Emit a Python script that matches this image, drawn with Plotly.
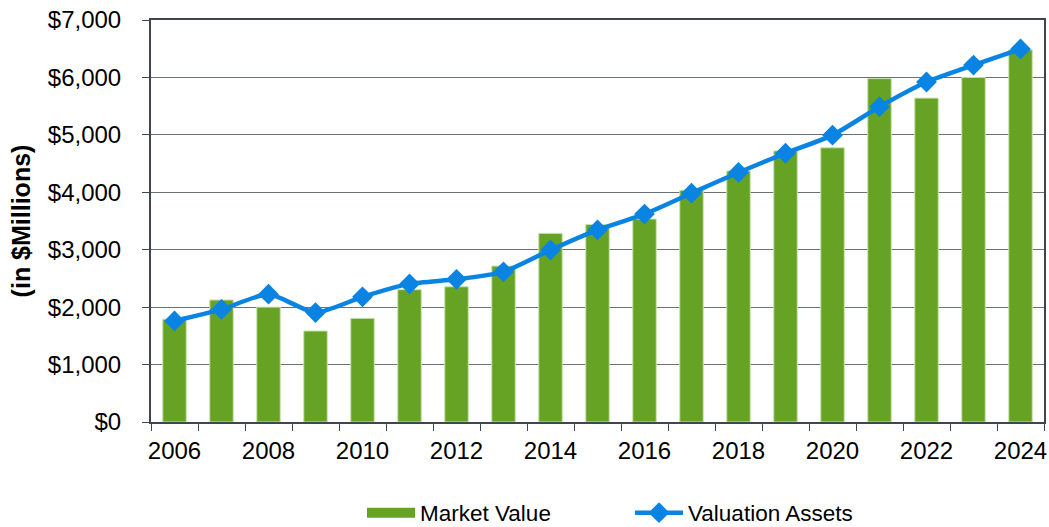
import plotly.graph_objects as go

years = list(range(2006, 2025))
market_value = [1790, 2125, 2000, 1585, 1805, 2305, 2355, 2715, 3285, 3440,
                3535, 4035, 4370, 4720, 4775, 5980, 5640, 6000, 6480]
valuation_assets = [1760, 1960, 2225, 1905, 2180, 2405, 2485, 2615, 2995, 3345,
                    3620, 3985, 4345, 4680, 4995, 5490, 5920, 6215, 6495]
y_ticks = [0, 1000, 2000, 3000, 4000, 5000, 6000, 7000]
y_tick_labels = ["$0", "$1,000", "$2,000", "$3,000", "$4,000", "$5,000", "$6,000", "$7,000"]
x_tick_years = list(range(2006, 2025, 2))

FONT = "Liberation Sans, Arial, sans-serif"
AXIS = "#404650"
GRID = "#6b7078"
GREEN = "#66A325"
BLUE = "#0A84E2"

W, H = 1049, 527

fig = go.Figure()
fig.add_trace(go.Bar(
    x=years, y=market_value, name="Market Value", showlegend=False,
    marker=dict(color=GREEN, line=dict(color="#c9e2ae", width=1)),
    width=0.5,
))
# legend entry with a wide green swatch, as in the reference
fig.add_trace(go.Scatter(
    x=[None], y=[None], name="Market Value", mode="lines",
    line=dict(color=GREEN, width=12),
))
fig.add_trace(go.Scatter(
    x=years, y=valuation_assets, name="Valuation Assets",
    mode="lines+markers",
    line=dict(color=BLUE, width=4.5, shape="spline", smoothing=0.6),
    marker=dict(symbol="diamond", size=16, color=BLUE),
))

fig.update_layout(
    width=W, height=H,
    margin=dict(l=151, r=5, t=20, b=105),
    paper_bgcolor="white", plot_bgcolor="white",
    font=dict(family=FONT, color="black", size=24),
    legend=dict(
        orientation="h", xref="paper", x=(362 - 151) / 893, xanchor="left",
        yref="container", y=(527 - 513) / H, yanchor="middle",
        font=dict(size=22.5), itemwidth=48,
        entrywidthmode="pixels", entrywidth=205,
        bgcolor="rgba(0,0,0,0)",
    ),
    showlegend=True,
)
fig.update_xaxes(
    range=[2005.5, 2024.5], automargin=False,
    tickmode="array", tickvals=x_tick_years, ticktext=[str(y) for y in x_tick_years],
    ticks="", showgrid=False, ticklabeloverflow="allow",
    showline=True, linecolor=AXIS, linewidth=2, mirror=True,
    tickfont=dict(size=24), ticklabelstandoff=6,
    minor=dict(tickmode="linear", tick0=2005.5, dtick=1, ticks="outside",
               ticklen=7, tickcolor=AXIS, tickwidth=1, showgrid=False),
)
fig.update_yaxes(
    range=[0, 7000], automargin=False,
    tickmode="array", tickvals=y_ticks, ticktext=y_tick_labels,
    ticks="outside", ticklen=7, tickcolor=AXIS, tickwidth=1,
    showgrid=True, gridcolor=GRID, gridwidth=1, ticklabeloverflow="allow",
    showline=True, linecolor=AXIS, linewidth=2, mirror=True,
    tickfont=dict(size=24), zeroline=False, ticklabelstandoff=16,
    title=dict(text="<b>(in $Millions)</b>", font=dict(size=25), standoff=10),
)

# remove the default 8px page margin so the figure fills the window exactly
fig.write_html(
    "out.html",
    config={"displayModeBar": False},
    post_script="document.body.style.margin='0';document.body.style.overflow='hidden';",
)
